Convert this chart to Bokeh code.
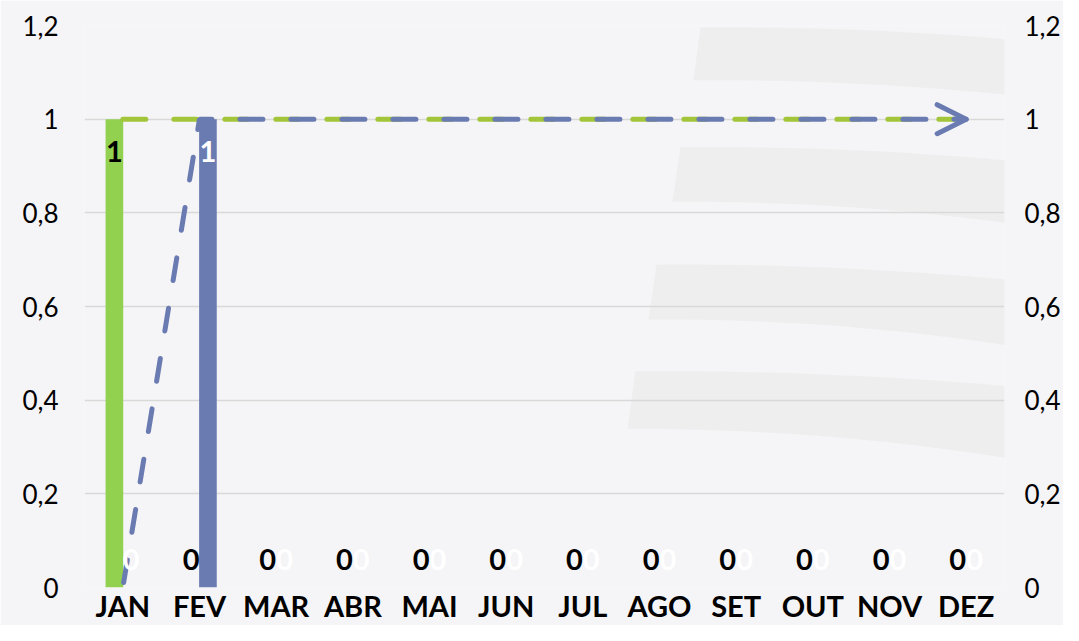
from bokeh.plotting import figure
from bokeh.models import (Range1d, LinearAxis, FixedTicker, CustomJSTickFormatter,
                          Arrow, OpenHead)
from bokeh.core.properties import value
from bokeh.embed import file_html
from bokeh.resources import INLINE

# ---- data ----
months = ["JAN", "FEV", "MAR", "ABR", "MAI", "JUN", "JUL", "AGO", "SET", "OUT", "NOV", "DEZ"]
green_bars = [1, 0, 0, 0, 0, 0, 0, 0, 0, 0, 0, 0]
blue_bars = [0, 1, 0, 0, 0, 0, 0, 0, 0, 0, 0, 0]
green_line = [1, 1, 1, 1, 1, 1, 1, 1, 1, 1, 1, 1]
blue_line = [0, 1, 1, 1, 1, 1, 1, 1, 1, 1, 1, 1]
y_ticks = [0, 0.2, 0.4, 0.6, 0.8, 1.0, 1.2]

# ---- styles ----
GREEN_BAR = "#92d050"
BLUE_BAR = "#6a7bb2"
GREEN_LINE = "#a3c53a"
BLUE_LINE = "#6a7bb2"
BG = "#f5f4f6"
BAND = "#eeeeef"
FONT = "Lato"
BAR_W = 0.23
OFF = 0.11

# decorative watermark bands (background only), in page pixel space:
# (x_left_top, x_left_bottom, top_left, top_right, bottom_left, bottom_right)
WATERMARK = [
    (700, 693, 27, 47, 80, 104),
    (680, 672, 147, 169, 202, 236),
    (656, 648, 265, 289, 320, 360),
    (635, 627, 372, 395, 430, 474),
]

xc = [i + 0.5 for i in range(len(months))]

p = figure(width=1063, height=625, output_backend="svg", toolbar_location=None,
           x_range=Range1d(0, len(months)), y_range=Range1d(0, 1.2),
           min_border_left=84, min_border_right=59, min_border_top=25, min_border_bottom=36)
p.extra_y_ranges = {"y2": Range1d(0, 1.2), "py": Range1d(589, 25)}
p.extra_x_ranges = {"px": Range1d(84, 1004)}

p.background_fill_color = BG
p.border_fill_color = BG
p.outline_line_color = None
p.xgrid.grid_line_color = None
p.ygrid.grid_line_color = "#d9d9d9"
p.ygrid.grid_line_width = 1.3
p.ygrid.ticker = FixedTicker(ticks=y_ticks)

# watermark (smooth arcs)
X_END = 1090
xs_b, ys_b = [], []
for xlt, xlb, tl, tr, bl, br in WATERMARK:
    n = 16
    top_x = [xlt + (X_END - xlt) * k / n for k in range(n + 1)]
    top_y = [tl - 3 * (k / n) + (tr - tl + 3) * (k / n) ** 2 for k in range(n + 1)]
    bot_x = [xlb + (X_END - xlb) * k / n for k in range(n + 1)]
    bot_y = [bl - 3 * (k / n) + (br - bl + 3) * (k / n) ** 2 for k in range(n + 1)]
    xs_b.append(top_x + bot_x[::-1])
    ys_b.append(top_y + bot_y[::-1])
wm = p.patches(xs=xs_b, ys=ys_b, x_range_name="px", y_range_name="py",
               fill_color=BAND, line_color=None)
wm.level = "image"

fmt = CustomJSTickFormatter(code="const s = (Math.round(tick*10)/10).toString(); return s.replace('.', ',');")

def style_axis(ax, size, bold, standoff):
    ax.axis_line_color = None
    ax.major_tick_line_color = None
    ax.minor_tick_line_color = None
    ax.major_tick_out = 0
    ax.major_tick_in = 0
    ax.minor_tick_out = 0
    ax.minor_tick_in = 0
    ax.major_label_text_font = FONT
    ax.major_label_text_font_size = size
    ax.major_label_text_font_style = "bold" if bold else "normal"
    ax.major_label_text_color = "#000000"
    ax.major_label_standoff = standoff

# x axis
xa = p.xaxis[0]
xa.ticker = FixedTicker(ticks=xc)
xa.major_label_overrides = {x: m for x, m in zip(xc, months)}
style_axis(xa, "29px", True, 0)

# left y axis
ya = p.yaxis[0]
ya.ticker = FixedTicker(ticks=y_ticks)
ya.formatter = fmt
style_axis(ya, "26px", False, 26)

# right y axis
ya2 = LinearAxis(y_range_name="y2", ticker=FixedTicker(ticks=y_ticks), formatter=fmt)
style_axis(ya2, "26px", False, 20)
p.add_layout(ya2, "right")

# bars
p.vbar(x=[x - OFF for x in xc], top=green_bars, bottom=0, width=BAR_W,
       fill_color=GREEN_BAR, line_color=None)
p.vbar(x=[x + OFF for x in xc], top=blue_bars, bottom=0, width=BAR_W,
       fill_color=BLUE_BAR, line_color=None)

# cumulative lines
p.line(x=xc, y=green_line, y_range_name="y2", line_color=GREEN_LINE, line_width=5,
       line_dash="23 28", line_cap="round")
p.line(x=xc, y=blue_line, y_range_name="y2", line_color=BLUE_LINE, line_width=5,
       line_dash="23 28", line_cap="round", line_dash_offset=46)

p.add_layout(Arrow(x_start=xc[-2], y_start=blue_line[-2], x_end=xc[-1], y_end=blue_line[-1],
                   y_range_name="y2", line_alpha=0,
                   end=OpenHead(size=29, line_color=BLUE_LINE, line_width=5,
                                line_cap="round", line_join="round")))

# data labels
def label_y(v):
    return v - 0.068 if v > 0 else v + 0.06

p.text(x=[x - OFF for x in xc], y=[label_y(v) for v in green_bars],
       text=[str(v) for v in green_bars], text_color="#000000",
       text_font=value(FONT), text_font_style="bold", text_font_size="29px",
       text_align="center", text_baseline="middle")
p.text(x=[x + OFF for x in xc], y=[label_y(v) for v in blue_bars],
       text=[str(v) for v in blue_bars], text_color="#ffffff",
       text_font=value(FONT), text_font_style="bold", text_font_size="29px",
       text_align="center", text_baseline="middle")

open("out.html", "w").write(file_html(p, INLINE))
